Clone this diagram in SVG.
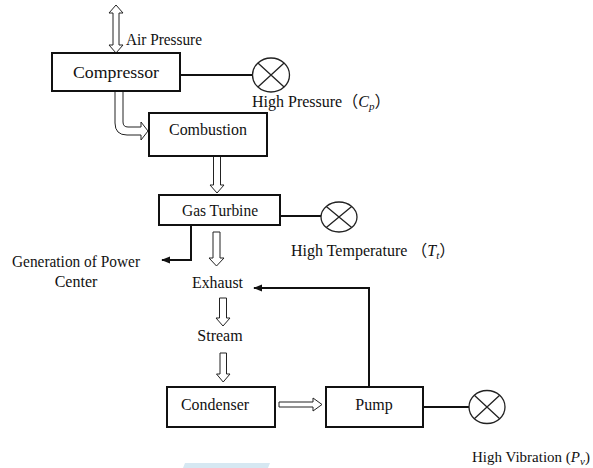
<svg xmlns="http://www.w3.org/2000/svg" width="593" height="468" viewBox="0 0 593 468">
<style>
text{font-family:"Liberation Serif","Times New Roman","Noto Sans CJK SC",serif;font-size:16px;fill:#111}
.box{fill:#fff;stroke:#111;stroke-width:2}
.hollow{fill:#fff;stroke:#222;stroke-width:1}
.line{fill:none;stroke:#111;stroke-width:2}
.gauge{fill:#fff;stroke:#222;stroke-width:1.3}
.m{font-style:italic}
.sub{font-style:italic;font-size:11px}
</style>
<defs>
<marker id="ah" viewBox="0 0 10 10" refX="9" refY="5" markerWidth="4.5" markerHeight="4.5" orient="auto" markerUnits="strokeWidth">
<path d="M0,1 L10,5 L0,9 Z" fill="#111"/>
</marker>
</defs>
<rect x="0" y="0" width="593" height="468" fill="#fff"/>
<polygon points="185,463 270,463 268,468 183,468" fill="#d6e8f2"/>

<g id="connectors">
<polygon class="hollow" points="116,5 123,13 119,13 119,45 123,45 116,53 109,45 113,45 113,13 109,13"/>
<path class="hollow" d="M115,91 L115,123 Q115,135 127,135 L141,135 L141,140 L148,131 L141,122 L141,127 L128,127 Q123,127 123,122 L123,91"/>
<polygon class="hollow" points="213.5,156 220.5,156 220.5,185 224,185 217,193 210,185 213.5,185"/>
<polygon class="hollow" points="213,232 220,232 220,258 224,258 216.5,266 209,258 213,258"/>
<polygon class="hollow" points="219.5,298 226.5,298 226.5,318 230,318 223,326 216,318 219.5,318"/>
<polygon class="hollow" points="220,353 226.5,353 226.5,374 230,374 223.2,382 216.5,374 220,374"/>
<polygon class="hollow" points="279,402 313,402 313,398 322,404.5 313,411 313,407 279,407"/>
<line class="line" x1="180" y1="75" x2="253" y2="75"/>
<line class="line" x1="280" y1="216" x2="321" y2="216"/>
<line class="line" x1="423" y1="407" x2="469" y2="407"/>
<path class="line" d="M191,225 L191,260 L162,260" marker-end="url(#ah)"/>
<path class="line" d="M369,387 L369,288 L254,288" marker-end="url(#ah)"/>
</g>

<g id="air-pressure"><text x="126" y="45" textLength="76" lengthAdjust="spacingAndGlyphs">Air Pressure</text></g>

<g id="compressor">
<rect class="box" x="52" y="53" width="128" height="38"/>
<text x="116" y="77.5" text-anchor="middle" style="font-size:17.5px" textLength="86" lengthAdjust="spacingAndGlyphs">Compressor</text>
</g>

<g id="gauge-pressure">
<ellipse class="gauge" cx="271" cy="75" rx="18.5" ry="17"/>
<path d="M257.9,63 L284.1,87 M257.9,87 L284.1,63" stroke="#222" stroke-width="1.3"/>
<text x="252" y="107">High Pressure（<tspan class="m">C</tspan><tspan class="sub" dy="3">p</tspan><tspan dy="-3">）</tspan></text>
</g>

<g id="combustion">
<rect class="box" x="149" y="113" width="118" height="43"/>
<text x="208" y="135" text-anchor="middle" textLength="78" lengthAdjust="spacingAndGlyphs">Combustion</text>
</g>

<g id="gas-turbine">
<rect class="box" x="159" y="195" width="121" height="30"/>
<text x="220" y="216" text-anchor="middle" textLength="76" lengthAdjust="spacingAndGlyphs">Gas Turbine</text>
</g>

<g id="gauge-temperature">
<ellipse class="gauge" cx="339" cy="217" rx="18" ry="15"/>
<path d="M326.3,206.4 L351.7,227.6 M326.3,227.6 L351.7,206.4" stroke="#222" stroke-width="1.3"/>
<text x="291" y="256">High Temperature （<tspan class="m">T</tspan><tspan class="sub" dy="3">t</tspan><tspan dy="-3">）</tspan></text>
</g>

<g id="generation">
<text x="76" y="267" text-anchor="middle" textLength="128" lengthAdjust="spacingAndGlyphs">Generation of Power</text>
<text x="76" y="287" text-anchor="middle">Center</text>
</g>

<g id="exhaust"><text x="217.5" y="288" text-anchor="middle" textLength="51" lengthAdjust="spacingAndGlyphs">Exhaust</text></g>
<g id="stream"><text x="220" y="341" text-anchor="middle">Stream</text></g>

<g id="condenser">
<rect class="box" x="167" y="387" width="108" height="40"/>
<text x="215" y="410" text-anchor="middle" textLength="68" lengthAdjust="spacingAndGlyphs">Condenser</text>
</g>

<g id="pump">
<rect class="box" x="326" y="387" width="97" height="40"/>
<text x="374" y="410" text-anchor="middle">Pump</text>
</g>

<g id="gauge-vibration">
<ellipse class="gauge" cx="487" cy="407" rx="18" ry="16.5"/>
<path d="M474.3,395.3 L499.7,418.7 M474.3,418.7 L499.7,395.3" stroke="#222" stroke-width="1.3"/>
<text x="472" y="462" style="font-size:15px">High Vibration (<tspan class="m">P</tspan><tspan class="sub" dy="3">v</tspan><tspan dy="-3">)</tspan></text>
</g>
</svg>
